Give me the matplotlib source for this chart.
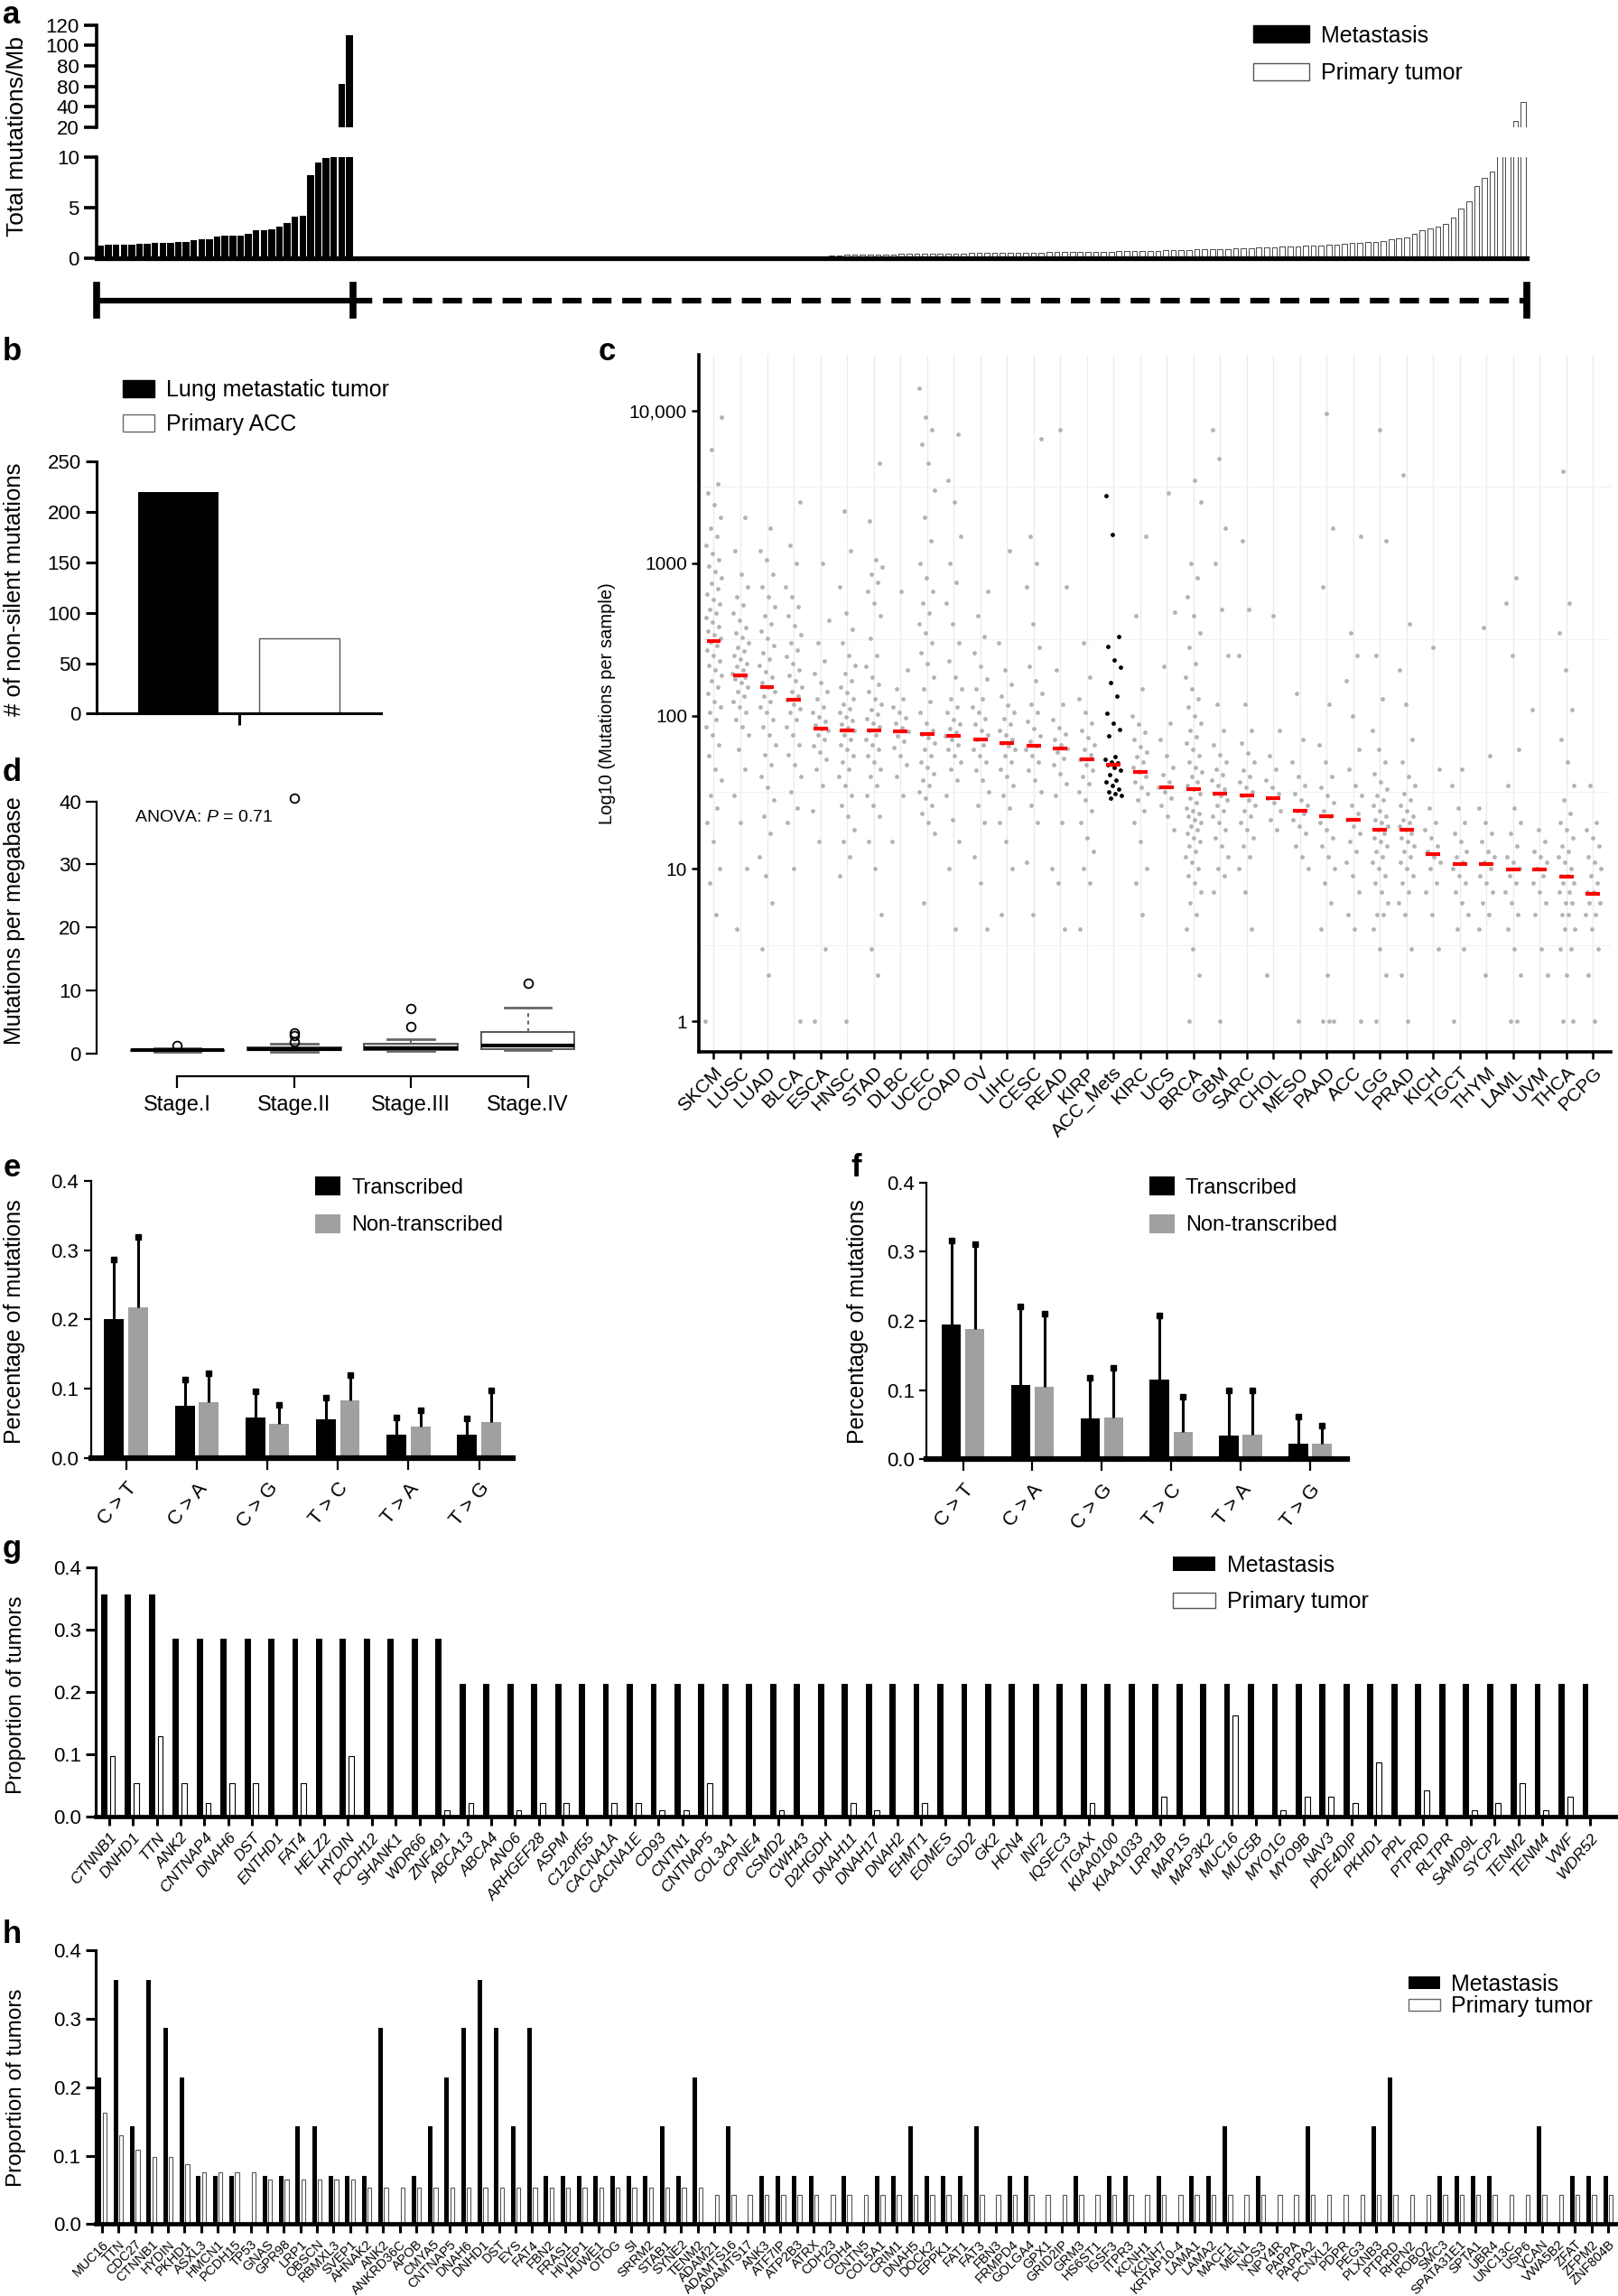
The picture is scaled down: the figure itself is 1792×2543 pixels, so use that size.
import numpy as np
import matplotlib
matplotlib.use('Agg')
import matplotlib.pyplot as plt
from matplotlib.patches import Patch
from matplotlib.ticker import NullLocator
from matplotlib.transforms import blended_transform_factory

plt.rcParams['font.family'] = ['Liberation Sans', 'DejaVu Sans']
plt.rcParams['mathtext.fontset'] = 'custom'
plt.rcParams['mathtext.rm'] = 'Liberation Sans'
plt.rcParams['mathtext.it'] = 'Liberation Sans:italic'
NARROW = ['Liberation Sans Narrow', 'Liberation Sans']

# ---------------- data ----------------
# a: total mutations/Mb, sorted
met_tmb = [1.2, 1.3, 1.3, 1.35, 1.35, 1.4, 1.4, 1.45, 1.45, 1.45, 1.6, 1.6, 1.75, 1.8, 1.8,
           2.1, 2.2, 2.2, 2.2, 2.35, 2.7, 2.7, 2.85, 3.05, 3.45, 4.1, 4.15, 8.2, 9.4, 9.9,
           10.6, 62, 110]
primary_tmb = [0.0] * 59 + [
    0.15, 0.18, 0.2, 0.25, 0.28, 0.3,
    0.32, 0.33, 0.34, 0.35, 0.36, 0.37, 0.38, 0.38, 0.39, 0.4, 0.41, 0.42, 0.43, 0.44,
    0.46, 0.47, 0.48, 0.49, 0.5, 0.5, 0.51, 0.52, 0.53, 0.54, 0.55, 0.56, 0.57, 0.58, 0.59,
    0.6, 0.61, 0.62, 0.63, 0.64, 0.65, 0.66, 0.68, 0.7, 0.72,
    0.74, 0.76, 0.78, 0.8, 0.82, 0.84, 0.86, 0.88, 0.9, 0.93, 0.96, 0.99, 1.02, 1.05, 1.08,
    1.1, 1.13, 1.16, 1.19, 1.22, 1.26, 1.3, 1.35, 1.4, 1.45,
    1.5, 1.55, 1.6, 1.7, 1.8, 1.9, 2.0,
    2.4, 2.7, 2.9, 3.1, 3.4, 4.0, 4.9, 5.6, 7.1, 7.9, 8.5,
    10.5, 12, 26, 45]
a_upper_ticks = [20, 40, 60, 80, 100, 120]
a_upper_labels = ['20', '40', '80', '80', '100', '120']

# b: non-silent mutations
b_groups = ['Lung metastatic tumor', 'Primary ACC']
b_counts = [220, 75]

# c: mutations per sample by cancer type
c_types = ['SKCM', 'LUSC', 'LUAD', 'BLCA', 'ESCA', 'HNSC', 'STAD', 'DLBC', 'UCEC', 'COAD',
           'OV', 'LIHC', 'CESC', 'READ', 'KIRP', 'ACC_Mets', 'KIRC', 'UCS', 'BRCA', 'GBM',
           'SARC', 'CHOL', 'MESO', 'PAAD', 'ACC', 'LGG', 'PRAD', 'KICH', 'TGCT', 'THYM',
           'LAML', 'UVM', 'THCA', 'PCPG']
c_medians = [310, 185, 155, 128, 83, 80, 80, 79, 76, 74, 70, 66, 64, 61, 52, 48, 43, 34, 33,
             31, 30, 29, 24, 22, 21, 18, 18, 12.5, 10.7, 10.7, 9.9, 9.9, 8.9, 6.8]
c_samples = [
    [1, 5, 8, 10, 15, 20, 25, 30, 38, 45, 55, 65, 75, 85, 95, 105, 115, 125, 140, 155, 170, 185,
     200, 215, 230, 250, 270, 290, 305, 320, 340, 360, 385, 410, 440, 470, 500, 540, 580, 630,
     680, 740, 800, 880, 960, 1050, 1150, 1300, 1500, 1700, 2000, 2400, 2900, 3300, 5500, 9000],
    [4, 10, 20, 30, 45, 60, 75, 85, 95, 105, 115, 125, 135, 145, 155, 165, 175, 180, 185, 190,
     200, 210, 220, 235, 250, 265, 280, 300, 325, 350, 380, 420, 470, 530, 600, 700, 850, 1200, 2000],
    [2, 3, 6, 9, 12, 17, 22, 28, 34, 40, 48, 56, 65, 75, 85, 95, 105, 115, 125, 135, 145, 155,
     165, 180, 195, 215, 235, 260, 290, 320, 360, 400, 450, 520, 600, 700, 850, 1050, 1200, 1700],
    [1, 10, 20, 25, 32, 40, 48, 56, 65, 75, 85, 95, 105, 112, 120, 128, 135, 145, 155, 170, 185,
     200, 220, 245, 270, 300, 340, 390, 450, 520, 600, 700, 1000, 1300, 2500],
    [1, 3, 15, 24, 35, 45, 52, 58, 64, 70, 75, 80, 83, 87, 92, 98, 105, 115, 130, 145, 165, 190,
     230, 300, 420, 1000],
    [1, 9, 12, 15, 18, 22, 26, 30, 35, 40, 45, 50, 55, 60, 65, 70, 75, 80, 84, 88, 93, 98, 105,
     112, 120, 130, 142, 155, 170, 190, 215, 250, 300, 370, 470, 700, 1200, 2200],
    [2, 3, 5, 10, 15, 22, 26, 30, 35, 40, 45, 50, 55, 60, 65, 70, 75, 80, 85, 90, 96, 102, 110,
     120, 130, 145, 160, 180, 210, 250, 320, 450, 550, 650, 750, 850, 950, 1050, 1900, 4500],
    [15, 30, 40, 48, 55, 62, 68, 74, 79, 84, 90, 97, 105, 115, 130, 150, 200, 650],
    [6, 17, 20, 23, 26, 29, 32, 35, 38, 42, 46, 50, 55, 60, 66, 72, 76, 80, 90, 105, 125, 150,
     180, 220, 260, 300, 350, 400, 470, 550, 650, 800, 1000, 1400, 2000, 3000, 4500, 6000, 7500,
     9000, 14000],
    [4, 10, 15, 21, 30, 38, 45, 50, 55, 60, 65, 70, 74, 78, 83, 88, 95, 105, 115, 130, 150, 180,
     230, 300, 400, 550, 750, 1000, 1500, 2500, 3500, 7000],
    [4, 8, 12, 20, 26, 32, 38, 44, 50, 55, 60, 65, 70, 75, 80, 88, 96, 105, 115, 130, 150, 175,
     210, 260, 330, 450, 650],
    [5, 10, 15, 20, 25, 30, 35, 40, 45, 50, 55, 60, 64, 66, 70, 75, 80, 88, 96, 105, 118, 135,
     160, 200, 300, 1200],
    [5, 11, 20, 26, 32, 38, 44, 50, 55, 60, 64, 68, 74, 82, 92, 105, 120, 140, 170, 210, 280,
     400, 700, 1000, 1500, 6500],
    [4, 8, 10, 20, 30, 36, 42, 48, 53, 58, 61, 65, 70, 76, 84, 95, 120, 200, 700, 7500],
    [4, 8, 10, 13, 16, 20, 24, 28, 32, 36, 40, 44, 48, 52, 56, 60, 65, 72, 80, 90, 105, 130, 180, 300],
    [29, 30, 31, 32, 33, 35, 37, 38, 41, 44, 46, 48, 49, 50, 52, 54, 74, 81, 90, 104, 135, 166,
     207, 232, 283, 330, 1540, 2750],
    [5, 8, 10, 15, 20, 24, 28, 31, 34, 37, 40, 43, 46, 50, 54, 58, 63, 70, 78, 88, 100, 150, 450, 1500],
    [18, 22, 26, 29, 32, 34, 37, 41, 46, 55, 70, 90, 210, 480, 2900],
    [1, 2, 3, 4, 5, 6, 7, 8, 9, 10, 11, 12, 13, 14, 15, 16, 17, 18, 19, 20, 21, 22, 23, 24, 25,
     27, 29, 31, 33, 35, 37, 40, 43, 46, 50, 55, 60, 66, 73, 80, 90, 100, 115, 130, 150, 180,
     220, 280, 350, 450, 600, 800, 1000, 2500, 3500],
    [1, 7, 9, 10, 12, 14, 16, 18, 20, 22, 24, 26, 28, 30, 31, 33, 35, 38, 41, 45, 50, 56, 65, 80,
     120, 250, 500, 1000, 1700, 4800, 7500],
    [4, 7, 10, 12, 14, 16, 18, 20, 22, 24, 26, 28, 30, 32, 34, 37, 40, 44, 50, 57, 66, 80, 120,
     250, 500, 1400],
    [2, 18, 21, 24, 27, 29, 31, 34, 38, 45, 55, 80, 450],
    [1, 10, 12, 14, 17, 19, 21, 23, 24, 26, 28, 31, 35, 40, 50, 70, 140],
    [1, 1, 1, 2, 4, 6, 8, 10, 12, 14, 16, 18, 20, 22, 24, 27, 30, 34, 40, 50, 65, 120, 700, 1700, 9500],
    [1, 4, 5, 7, 9, 11, 13, 15, 17, 19, 21, 23, 26, 30, 35, 45, 60, 100, 170, 250, 350, 1500],
    [1, 2, 3, 4, 5, 5, 6, 7, 8, 9, 10, 11, 12, 13, 14, 15, 16, 17, 18, 19, 20, 21, 22, 24, 26,
     28, 30, 33, 37, 42, 50, 60, 80, 130, 250, 1400, 7500],
    [1, 2, 3, 5, 6, 7, 8, 9, 10, 11, 12, 13, 14, 15, 16, 17, 18, 19, 20, 21, 22, 24, 26, 28, 31,
     35, 40, 50, 70, 120, 200, 400, 3800],
    [3, 5, 7, 8, 10, 11, 12, 13, 14, 16, 18, 20, 25, 45, 280],
    [1, 3, 4, 5, 6, 7, 8, 9, 10, 11, 12, 13, 15, 17, 20, 25, 35, 45],
    [2, 4, 5, 6, 7, 8, 9, 10, 11, 12, 13, 15, 17, 20, 25, 55, 380],
    [1, 1, 2, 3, 4, 5, 6, 7, 8, 9, 10, 11, 12, 14, 17, 20, 25, 35, 60, 250, 550, 800],
    [2, 3, 5, 6, 7, 8, 9, 10, 11, 12, 13, 15, 18, 110],
    [1, 1, 2, 3, 3, 4, 4, 5, 5, 6, 6, 7, 7, 8, 8, 9, 9, 10, 11, 12, 13, 14, 16, 18, 20, 23, 28,
     35, 50, 70, 110, 200, 350, 550, 4000],
    [1, 2, 3, 4, 5, 5, 6, 6, 7, 7, 8, 9, 10, 11, 12, 14, 16, 18, 20, 35],
]

# d: mutations per megabase by stage (box statistics)
d_stages = ['Stage.I', 'Stage.II', 'Stage.III', 'Stage.IV']
d_whislo = [0.3, 0.3, 0.4, 0.5]
d_q1 = [0.4, 0.5, 0.6, 0.7]
d_med = [0.5, 0.7, 0.85, 1.2]
d_q3 = [0.6, 1.0, 1.5, 3.4]
d_whishi = [0.8, 1.6, 2.3, 7.3]
d_fliers = [[1.2], [1.8, 2.9, 3.2, 40.5], [4.2, 7.2], [11.1]]

# e, f: strand bias
sub_types = ['C > T', 'C > A', 'C > G', 'T > C', 'T > A', 'T > G']
e_trans = [0.201, 0.075, 0.058, 0.056, 0.033, 0.034]
e_trans_sd = [0.085, 0.038, 0.038, 0.031, 0.025, 0.023]
e_non = [0.218, 0.080, 0.049, 0.083, 0.045, 0.052]
e_non_sd = [0.101, 0.042, 0.028, 0.036, 0.024, 0.046]
f_trans = [0.195, 0.107, 0.059, 0.115, 0.035, 0.022]
f_trans_sd = [0.121, 0.114, 0.059, 0.093, 0.065, 0.040]
f_non = [0.188, 0.105, 0.061, 0.040, 0.036, 0.022]
f_non_sd = [0.123, 0.106, 0.071, 0.051, 0.063, 0.027]

# g: genes mutated in metastasis
g_genes = ['CTNNB1', 'DNHD1', 'TTN', 'ANK2', 'CNTNAP4', 'DNAH6', 'DST', 'ENTHD1', 'FAT4', 'HELZ2',
           'HYDIN', 'PCDH12', 'SHANK1', 'WDR66', 'ZNF491', 'ABCA13', 'ABCA4', 'ANO6', 'ARHGEF28',
           'ASPM', 'C12orf55', 'CACNA1A', 'CACNA1E', 'CD93', 'CNTN1', 'CNTNAP5', 'COL3A1', 'CPNE4',
           'CSMD2', 'CWH43', 'D2HGDH', 'DNAH11', 'DNAH17', 'DNAH2', 'EHMT1', 'EOMES', 'GJD2', 'GK2',
           'HCN4', 'INF2', 'IQSEC3', 'ITGAX', 'KIAA0100', 'KIAA1033', 'LRP1B', 'MAP1S', 'MAP3K2',
           'MUC16', 'MUC5B', 'MYO1G', 'MYO9B', 'NAV3', 'PDE4DIP', 'PKHD1', 'PPL', 'PTPRD', 'RLTPR',
           'SAMD9L', 'SYCP2', 'TENM2', 'TENM4', 'VWF', 'WDR52']
g_met = [0.357] * 3 + [0.286] * 12 + [0.214] * 48
g_pri = [0.098, 0.054, 0.13, 0.054, 0.022, 0.054, 0.054, 0, 0.054, 0, 0.098, 0, 0, 0, 0.011,
         0.022, 0, 0.011, 0.022, 0.022, 0, 0.022, 0.022, 0.011, 0.011, 0.054, 0, 0, 0.011, 0,
         0, 0.022, 0.011, 0, 0.022, 0, 0, 0, 0, 0, 0, 0.022, 0, 0, 0.033, 0, 0, 0.163, 0, 0.011,
         0.033, 0.033, 0.022, 0.087, 0, 0.043, 0, 0.011, 0.022, 0.054, 0.011, 0.033, 0]

# h: genes mutated in primary tumors
h_genes = ['MUC16', 'TTN', 'CDC27', 'CTNNB1', 'HYDIN', 'PKHD1', 'ASXL3', 'HMCN1', 'PCDH15', 'TP53',
           'GNAS', 'GPR98', 'LRP1', 'OBSCN', 'RBMXL3', 'SVEP1', 'AHNAK2', 'ANK2', 'ANKRD36C', 'APOB',
           'CMYA5', 'CNTNAP5', 'DNAH6', 'DNHD1', 'DST', 'EYS', 'FAT4', 'FBN2', 'FRAS1', 'HIVEP1',
           'HUWE1', 'OTOG', 'SI', 'SRRM2', 'STAB1', 'SYNE2', 'TENM2', 'ADAM21', 'ADAMTS16',
           'ADAMTS17', 'ANK3', 'ATF7IP', 'ATP2B3', 'ATRX', 'CDH23', 'CDH4', 'CNTN5', 'COL5A1',
           'CRIM1', 'DNAH5', 'DOCK2', 'EPPK1', 'FAT1', 'FAT3', 'FBN3', 'FRMPD4', 'GOLGA4', 'GPX1',
           'GRID2IP', 'GRM3', 'HS6ST1', 'IGSF3', 'ITPR3', 'KCNH1', 'KCNH7', 'KRTAP10-4', 'LAMA1',
           'LAMA2', 'MACF1', 'MEN1', 'NOS3', 'NPY4R', 'PAPPA', 'PAPPA2', 'PCNXL2', 'PDPR', 'PEG3',
           'PLXNB3', 'PTPRD', 'RHPN2', 'ROBO2', 'SMC3', 'SPATA31E1', 'SPTA1', 'UBR4', 'UNC13C',
           'USP6', 'VCAN', 'VWA5B2', 'ZFAT', 'ZFPM2', 'ZNF804B']
h_met = [0.214, 0.357, 0.143, 0.357, 0.286, 0.214, 0.071, 0.071, 0.071, 0, 0.071, 0.071, 0.143,
         0.143, 0.071, 0.071, 0.071, 0.286, 0, 0.071, 0.143, 0.214, 0.286, 0.357, 0.286, 0.143,
         0.286, 0.071, 0.071, 0.071, 0.071, 0.071, 0.071, 0.071, 0.143, 0.071, 0.214, 0, 0.143, 0,
         0.071, 0.071, 0.071, 0.071, 0, 0.071, 0, 0.071, 0.071, 0.143, 0.071, 0.071, 0.071, 0.143,
         0, 0.071, 0.071, 0, 0, 0.071, 0, 0.071, 0.071, 0, 0.071, 0, 0.071, 0.071, 0.143, 0, 0.071,
         0, 0, 0.143, 0, 0, 0, 0.143, 0.214, 0, 0, 0.071, 0.071, 0.071, 0.071, 0, 0, 0.143, 0,
         0.071, 0.071, 0.071]
h_pri = ([0.163, 0.13, 0.109, 0.098, 0.098, 0.087, 0.076, 0.076, 0.076, 0.076,
          0.065, 0.065, 0.065, 0.065, 0.065, 0.065] + [0.054] * 21 + [0.043] * 55)

# ---------------- layout helpers ----------------
W, H = 1104.0, 1567.0


def rect(l, t, r, b):
    return [l / W, 1 - b / H, (r - l) / W, (b - t) / H]


def fx(x):
    return x / W


def fy(y):
    return 1 - y / H


def clean(ax, lw_left=2.2, lw_bottom=2.2):
    ax.spines['top'].set_visible(False)
    ax.spines['right'].set_visible(False)
    ax.spines['left'].set_linewidth(lw_left)
    ax.spines['bottom'].set_linewidth(lw_bottom)


def legend(handles, labels, x, y, **kw):
    opts = dict(loc='upper left', bbox_to_anchor=(fx(x), fy(y)), frameon=False,
                borderpad=0, borderaxespad=0, handletextpad=0.5)
    opts.update(kw)
    return fig.legend(handles, labels, **opts)


fig = plt.figure(figsize=(17.92, 25.43), dpi=100)

for lab, x, y in [('a', 8, 10), ('b', 8, 240), ('c', 414, 240), ('d', 8, 527),
                  ('e', 8, 797), ('f', 584, 797), ('g', 8, 1057), ('h', 8, 1320)]:
    fig.text(fx(x), fy(y), lab, fontsize=25, fontweight='bold', ha='center', va='center')

# ---------------- a ----------------
ax_lo = fig.add_axes(rect(66, 107, 1042, 176))
ax_hi = fig.add_axes(rect(66, 17, 1042, 87))
n_met = len(met_tmb)
n_all = n_met + len(primary_tmb)
xa = np.arange(n_all)
for ax in (ax_lo, ax_hi):
    ax.bar(xa[:n_met], met_tmb, width=0.86, color='black', lw=0)
    ax.bar(xa[n_met:], primary_tmb, width=0.66, color='white', edgecolor='black', lw=0.5)
    ax.set_xlim(-0.5, n_all - 0.5)
    ax.set_xticks([])
    clean(ax, 2.6, 3.8)
    ax.tick_params(axis='y', length=10, width=2.6, labelsize=16, pad=4)
ax_lo.set_ylim(0, 10)
ax_lo.set_yticks([0, 5, 10])
ax_hi.set_ylim(20, 120)
ax_hi.set_yticks(a_upper_ticks)
ax_hi.set_yticklabels(a_upper_labels)
ax_hi.spines['bottom'].set_visible(False)
fig.text(fx(12), fy(93), 'Total mutations/Mb', rotation=90, fontsize=19, ha='center', va='center')

tr = blended_transform_factory(ax_lo.transData, ax_lo.transAxes)
xs = [-0.5, n_met - 0.5, n_all - 0.5]
ax_lo.plot(xs[:2], [-0.42, -0.42], transform=tr, color='black', lw=4.5, clip_on=False,
           solid_capstyle='butt')
ax_lo.plot(xs[1:], [-0.42, -0.42], transform=tr, color='black', lw=4.5, clip_on=False,
           ls=(0, (3.4, 1.9)), dash_capstyle='butt')
for xx in xs:
    ax_lo.plot([xx, xx], [-0.27, -0.57], transform=tr, color='black', lw=5.5, clip_on=False)

legend([Patch(fc='black', ec='black'), Patch(fc='white', ec='#555555', lw=1)],
       ['Metastasis', 'Primary tumor'], 855, 17, handlelength=2.5, handleheight=0.8,
       labelspacing=0.7, prop={'family': NARROW, 'size': 18})

# ---------------- b ----------------
ax_b = fig.add_axes(rect(66, 315, 260, 487))
ax_b.bar([0], b_counts[:1], width=0.66, color='black', lw=0)
ax_b.bar([1], b_counts[1:], width=0.66, color='white', edgecolor='#555555', lw=1.0)
ax_b.set_xlim(-0.67, 1.67)
ax_b.set_ylim(0, 250)
ax_b.set_yticks([0, 50, 100, 150, 200, 250])
ax_b.set_xticks([0.5])
ax_b.set_xticklabels([''])
clean(ax_b, 2.2, 2.2)
ax_b.tick_params(length=9, width=2.2, labelsize=16)
fig.text(fx(10), fy(402), '# of non-silent mutations', rotation=90, fontsize=18.5,
         ha='center', va='center')
legend([Patch(fc='black', ec='black'), Patch(fc='white', ec='#666666', lw=1)],
       b_groups, 84, 259, handlelength=1.4, handleheight=0.75, labelspacing=0.55, fontsize=18)

# ---------------- d ----------------
ax_d = fig.add_axes(rect(66, 540, 400, 727))
d_stats = [dict(label=s, med=m, q1=a, q3=b, whislo=lo, whishi=hi, fliers=fl)
           for s, m, a, b, lo, hi, fl in zip(d_stages, d_med, d_q1, d_q3, d_whislo, d_whishi,
                                             d_fliers)]
bp = ax_d.bxp(d_stats, positions=[1, 2, 3, 4], widths=0.8, capwidths=0.4, patch_artist=True,
              boxprops=dict(edgecolor='#555555', lw=1.4),
              medianprops=dict(color='black', lw=3),
              whiskerprops=dict(color='#666666', lw=1.5, ls=(0, (2, 2))),
              capprops=dict(color='#666666', lw=2),
              flierprops=dict(marker='o', mfc='none', mec='black', ms=7, mew=1.3))
for patch, fc in zip(bp['boxes'], ['#777777', '#cfcfcf', '#d5d5d5', 'white']):
    patch.set_facecolor(fc)
for fl in bp['fliers']:
    fl.set_clip_on(False)
ax_d.set_xlim(0.31, 4.5)
ax_d.set_ylim(-1.86, 41.6)
ax_d.set_yticks([0, 10, 20, 30, 40])
ax_d.spines['left'].set_bounds(0, 40)
ax_d.spines['bottom'].set_bounds(1, 4)
ax_d.spines['bottom'].set_position(('outward', 9))
clean(ax_d, 1.6, 1.6)
ax_d.tick_params(length=9, width=1.6, labelsize=16)
ax_d.tick_params(axis='x', labelsize=17, pad=6)
ax_d.text(0.078, 0.904, r'ANOVA: $\mathit{P}$ = 0.71', transform=ax_d.transAxes,
          fontsize=14, va='center')
fig.text(fx(10), fy(628), 'Mutations per megabase', rotation=90, fontsize=18,
         ha='center', va='center')

# ---------------- c ----------------
ax_c = fig.add_axes(rect(477, 242, 1099, 718))
ax_c.set_yscale('log')
n_c = len(c_types)
for i in range(n_c):
    ax_c.axvline(i, color='#ebebeb', lw=0.9, zorder=0)
for v in (10 ** 0.5, 10 ** 1.5, 10 ** 2.5, 10 ** 3.5):
    ax_c.axhline(v, color='#f2f2f2', lw=0.9, zorder=0)
for i, vals in enumerate(c_samples):
    n = len(vals)
    offs = ((np.arange(n) * 0.618034 + i * 0.29) % 1.0 - 0.5) * 0.62
    col = 'black' if c_types[i] == 'ACC_Mets' else '#b3b3b3'
    ax_c.scatter(i + offs, vals, s=12, color=col, lw=0, zorder=2)
ax_c.hlines(c_medians, np.arange(n_c) - 0.27, np.arange(n_c) + 0.27, color='red', lw=3, zorder=3)
ax_c.set_xlim(-0.55, 33.66)
ax_c.set_ylim(0.63, 23200)
ax_c.set_yticks([1, 10, 100, 1000, 10000])
ax_c.set_yticklabels(['1', '10', '100', '1000', '10,000'], fontfamily=NARROW)
ax_c.yaxis.set_minor_locator(NullLocator())
ax_c.set_xticks(np.arange(n_c))
ax_c.set_xticklabels(c_types, rotation=45, ha='right', rotation_mode='anchor',
                     fontfamily=NARROW, fontsize=15)
clean(ax_c, 2.6, 2.6)
ax_c.tick_params(length=6, width=1.8, labelsize=15)
fig.text(fx(414), fy(480), 'Log10 (Mutations per sample)', rotation=90, fontsize=14.5,
         ha='center', va='center')


# ---------------- e, f ----------------
def strand_panel(box, tr_vals, tr_sd, nt_vals, nt_sd, xlim, ylab_x, leg_x):
    ax = fig.add_axes(rect(*box))
    x = np.arange(len(sub_types))
    ax.bar(x - 0.17, tr_vals, width=0.28, color='black', lw=0, zorder=2)
    ax.bar(x + 0.17, nt_vals, width=0.28, color='#a0a0a0', lw=0, zorder=2)
    for off, vals, sd in ((-0.17, tr_vals, tr_sd), (0.17, nt_vals, nt_sd)):
        top = np.array(vals) + np.array(sd)
        ax.vlines(x + off, vals, top, color='black', lw=2.2, zorder=3)
        ax.plot(x + off, top, 's', color='black', ms=5, zorder=3)
    ax.set_xlim(*xlim)
    ax.set_ylim(0, 0.4)
    ax.set_yticks([0, 0.1, 0.2, 0.3, 0.4])
    ax.set_yticklabels(['0.0', '0.1', '0.2', '0.3', '0.4'], fontfamily=NARROW)
    ax.set_xticks(x)
    ax.set_xticklabels(sub_types, rotation=50, ha='right', rotation_mode='anchor',
                       fontfamily=NARROW, fontsize=16)
    clean(ax, 1.6, 4.5)
    ax.tick_params(axis='y', length=6, width=1.6, labelsize=16)
    ax.tick_params(axis='x', length=9, width=1.6, pad=8)
    fig.text(fx(ylab_x), fy(902), 'Percentage of mutations', rotation=90, fontsize=18,
             ha='center', va='center')
    legend([Patch(fc='black'), Patch(fc='#a0a0a0')], ['Transcribed', 'Non-transcribed'],
           leg_x, 803, handlelength=1.2, handleheight=1.0, labelspacing=0.75,
           prop={'family': NARROW, 'size': 17})
    return ax


strand_panel((62, 806, 350, 995), e_trans, e_trans_sd, e_non, e_non_sd, (-0.5, 5.48), 10, 215)
strand_panel((632, 807, 919, 996), f_trans, f_trans_sd, f_non, f_non_sd, (-0.53, 5.53), 585, 784)


# ---------------- g, h ----------------
def gene_panel(box, genes, met, pri, xlim, offs, widths, lab_kw, pri_ec, ycenter):
    ax = fig.add_axes(rect(*box))
    x = np.arange(len(genes))
    ax.bar(x + offs[0], met, width=widths[0], color='black', lw=0, zorder=2)
    ax.bar(x + offs[1], pri, width=widths[1], color='white', edgecolor=pri_ec, lw=0.8, zorder=2)
    ax.set_xlim(*xlim)
    ax.set_ylim(0, 0.4)
    ax.set_yticks([0, 0.1, 0.2, 0.3, 0.4])
    ax.set_yticklabels(['0.0', '0.1', '0.2', '0.3', '0.4'])
    ax.set_xticks(x)
    ax.set_xticklabels(genes, ha='right', rotation_mode='anchor', **lab_kw)
    clean(ax, 2.2, 3.4)
    ax.tick_params(axis='y', length=8, width=2.2, labelsize=16)
    ax.tick_params(axis='x', length=7, width=2.2, pad=4)
    fig.text(fx(11), fy(ycenter), 'Proportion of tumors', rotation=90, fontsize=17.5,
             ha='center', va='center')
    return ax


gene_panel((65.5, 1070, 1103, 1240), g_genes, g_met, g_pri, (-0.54, 63.1), (-0.2, 0.15),
           (0.26, 0.22), dict(rotation=50, fontsize=12.5, style='italic', fontfamily=NARROW),
           'black', 1157)
legend([Patch(fc='black'), Patch(fc='white', ec='#555555', lw=1)],
       ['Metastasis', 'Primary tumor'], 800, 1061, handlelength=1.9, handleheight=0.65,
       labelspacing=0.65, prop={'family': NARROW, 'size': 18})

gene_panel((65, 1331, 1104, 1518), h_genes, h_met, h_pri, (-0.4, 91.6), (-0.16, 0.16),
           (0.27, 0.24), dict(rotation=45, fontsize=10.5), '#555555', 1425)
legend([Patch(fc='black'), Patch(fc='white', ec='#666666', lw=1)],
       ['Metastasis', 'Primary tumor'], 961, 1347, handlelength=1.4, handleheight=0.45,
       labelspacing=0.02, fontsize=18)

fig.savefig('out.png', dpi=100)
